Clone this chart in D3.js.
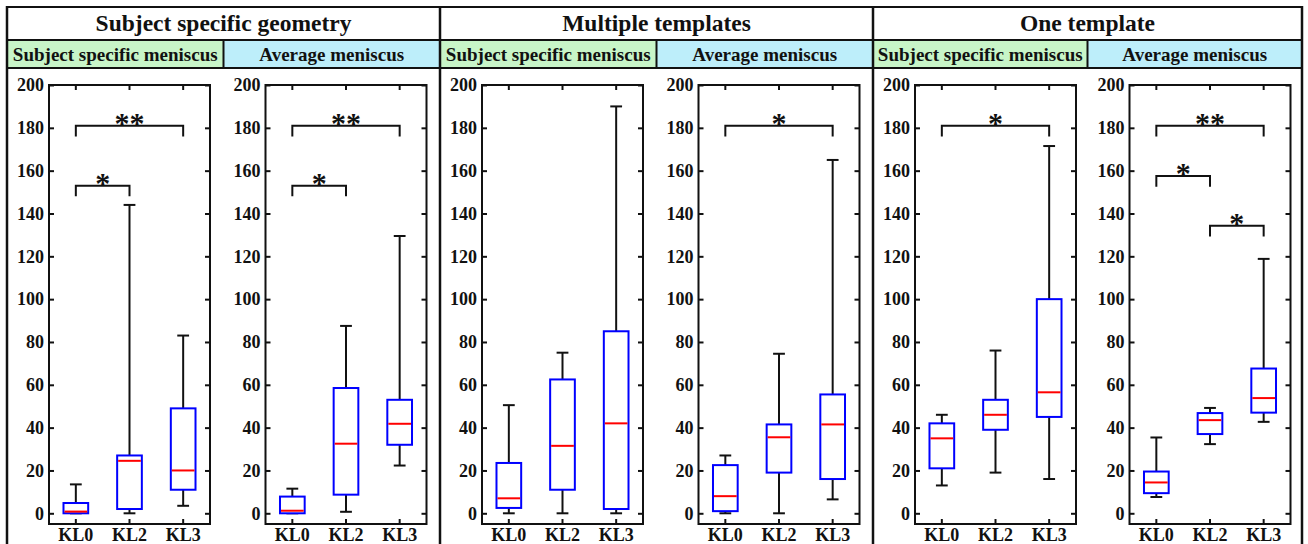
<!DOCTYPE html>
<html>
<head>
<meta charset="utf-8">
<script src="https://cdn.jsdelivr.net/npm/d3@7"></script>
<style>
  body { margin: 0; background: #fff; }
  svg text { font-family: "Liberation Serif", "Times New Roman", serif; font-weight: bold; fill: #111; }
</style>
</head>
<body>
<div id="chart"></div>
<script>
// titles
var groupTitles = ["Subject specific geometry", "Multiple templates", "One template"];
var subTitles = ["Subject specific meniscus", "Average meniscus"];
var subColors = ["#c8f5c8", "#bdeefa"];

var categories = ["KL0", "KL2", "KL3"];
var yTicks = [0, 20, 40, 60, 80, 100, 120, 140, 160, 180, 200];

// box stats per panel: [min, q1, median, q3, max] for KL0, KL2, KL3
var geomSubject = [[0, 0, 0.8, 4.8, 13.5], [0, 2, 24.5, 27, 144], [3.5, 11, 20, 49, 83]];
var geomAverage = [[0, 0, 1.2, 7.8, 11.5], [0.7, 8.7, 32.5, 58.5, 87.5], [22.3, 32, 41.8, 53, 129.5]];
var multiSubject = [[0, 2.5, 7, 23.5, 50.5], [0, 11, 31.5, 62.5, 75], [0, 2, 42, 85, 190]];
var multiAverage = [[0, 1, 8, 22.5, 27], [0, 19, 35.5, 41.5, 74.5], [6.5, 16, 41.5, 55.5, 165]];
var oneSubject = [[13, 21, 35, 42, 46], [19, 39, 46, 53, 76], [16, 45, 56.5, 100, 171.5]];
var oneAverage = [[7.6, 9.4, 14.4, 19.5, 35.4], [32.3, 37, 43.5, 46.8, 49.2], [42.7, 47, 53.8, 67.6, 118.8]];

// significance brackets: [fromIndex, toIndex, height, label]
var sigGeomSubject = [[0, 2, 181, "**"], [0, 1, 153, "*"]];
var sigGeomAverage = [[0, 2, 181, "**"], [0, 1, 153, "*"]];
var sigMultiSubject = [];
var sigMultiAverage = [[0, 2, 181, "*"]];
var sigOneSubject = [[0, 2, 181, "*"]];
var sigOneAverage = [[0, 2, 181, "**"], [0, 1, 157.5, "*"], [1, 2, 134.3, "*"]];

var panelStats = [geomSubject, geomAverage, multiSubject, multiAverage, oneSubject, oneAverage];
var panelSigs = [sigGeomSubject, sigGeomAverage, sigMultiSubject, sigMultiAverage, sigOneSubject, sigOneAverage];

var width = 1308, height = 544;
var svg = d3.select("#chart").append("svg")
  .attr("width", width)
  .attr("height", height);

// table layout
var groupX = [7, 440, 873];
var groupW = [433, 433, 429];
var rowTop = 7, rowMid = 40, rowSub = 68;

// the panels
var y = d3.scaleLinear().domain([-5, 200]).range([524, 85]);

panelStats.forEach(function(stats, p) {
  var g = Math.floor(p / 2), half = p % 2;
  var hw = groupW[g] / 2;
  var x0 = groupX[g] + half * hw;

  // subheader cell
  svg.append("rect")
    .attr("x", x0).attr("y", rowMid)
    .attr("width", hw).attr("height", rowSub - rowMid)
    .attr("fill", subColors[half]);
  svg.append("text")
    .attr("x", x0 + hw / 2).attr("y", 61)
    .attr("text-anchor", "middle")
    .style("font-size", "19px")
    .text(subTitles[half]);

  var x = d3.scaleBand().domain(categories).range([x0 + 42, x0 + 203]);
  var bw = x.bandwidth();
  var cx = function(i) { return x(categories[i]) + bw / 2; };
  var boxW = bw * 0.46, capW = bw * 0.22;

  var ax = svg.append("g");

  ax.append("g")
    .attr("transform", "translate(" + (x0 + 42) + ",0)")
    .call(d3.axisLeft(y).tickValues(yTicks).tickSizeInner(-5).tickSizeOuter(0).tickPadding(5));
  ax.append("g")
    .attr("transform", "translate(" + (x0 + 203) + ",0)")
    .call(d3.axisRight(y).tickValues(yTicks).tickSizeInner(-5).tickSizeOuter(0).tickFormat(""));
  ax.append("g")
    .attr("transform", "translate(0," + y(-5) + ")")
    .call(d3.axisBottom(x).tickSizeInner(-5).tickSizeOuter(0).tickPadding(4));
  ax.append("g")
    .attr("transform", "translate(0," + y(200) + ")")
    .call(d3.axisTop(x).tickSizeInner(-5).tickSizeOuter(0).tickFormat(""));

  ax.selectAll(".domain").remove();
  ax.selectAll(".tick line").attr("stroke", "#111").attr("stroke-width", 2);
  ax.selectAll(".tick text").style("font-size", "18px");

  ax.append("rect")
    .attr("x", x0 + 42).attr("y", y(200))
    .attr("width", 161).attr("height", y(-5) - y(200))
    .attr("fill", "none").attr("stroke", "#111").attr("stroke-width", 2);

  var boxes = svg.append("g").selectAll("g")
    .data(stats)
    .enter().append("g");

  // whiskers
  boxes.append("line")
    .attr("x1", function(d, i) { return cx(i); })
    .attr("x2", function(d, i) { return cx(i); })
    .attr("y1", function(d) { return y(d[3]); })
    .attr("y2", function(d) { return y(d[4]); })
    .attr("stroke", "#111").attr("stroke-width", 2);
  boxes.append("line")
    .attr("x1", function(d, i) { return cx(i); })
    .attr("x2", function(d, i) { return cx(i); })
    .attr("y1", function(d) { return y(d[1]); })
    .attr("y2", function(d) { return y(d[0]); })
    .attr("stroke", "#111").attr("stroke-width", 2);
  [0, 4].forEach(function(k) {
    boxes.append("line")
      .attr("x1", function(d, i) { return cx(i) - capW / 2; })
      .attr("x2", function(d, i) { return cx(i) + capW / 2; })
      .attr("y1", function(d) { return y(d[k]); })
      .attr("y2", function(d) { return y(d[k]); })
      .attr("stroke", "#111").attr("stroke-width", 2);
  });

  boxes.append("rect")
    .attr("x", function(d, i) { return cx(i) - boxW / 2; })
    .attr("y", function(d) { return y(d[3]); })
    .attr("width", boxW)
    .attr("height", function(d) { return Math.max(0.5, y(d[1]) - y(d[3])); })
    .attr("fill", "#fff").attr("stroke", "#0000ff").attr("stroke-width", 2);

  boxes.append("line")
    .attr("x1", function(d, i) { return cx(i) - boxW / 2 + 1; })
    .attr("x2", function(d, i) { return cx(i) + boxW / 2 - 1; })
    .attr("y1", function(d) { return y(d[2]); })
    .attr("y2", function(d) { return y(d[2]); })
    .attr("stroke", "#ff0000").attr("stroke-width", 2);

  // brackets
  var sig = svg.append("g").selectAll("g")
    .data(panelSigs[p])
    .enter().append("g");
  sig.append("path")
    .attr("d", function(d) {
      var xa = cx(d[0]), xb = cx(d[1]);
      return "M" + xa + "," + y(d[2] - 5) + "V" + y(d[2]) + "H" + xb + "V" + y(d[2] - 5);
    })
    .attr("fill", "none").attr("stroke", "#111").attr("stroke-width", 2);
  sig.append("text")
    .attr("x", function(d) { return (cx(d[0]) + cx(d[1])) / 2; })
    .attr("y", function(d) { return y(d[2]) + 7; })
    .attr("text-anchor", "middle")
    .style("font-size", "30px")
    .text(function(d) { return d[3]; });
});

// group titles and table lines
groupTitles.forEach(function(t, g) {
  svg.append("text")
    .attr("x", groupX[g] + groupW[g] / 2).attr("y", 31)
    .attr("text-anchor", "middle")
    .style("font-size", "23.5px")
    .text(t);
  svg.append("line")
    .attr("x1", groupX[g] + groupW[g] / 2).attr("x2", groupX[g] + groupW[g] / 2)
    .attr("y1", rowMid).attr("y2", rowSub)
    .attr("stroke", "#111").attr("stroke-width", 2);
});

var right = groupX[2] + groupW[2];
[rowTop, rowMid, rowSub].forEach(function(yy) {
  svg.append("line")
    .attr("x1", groupX[0]).attr("x2", right)
    .attr("y1", yy).attr("y2", yy)
    .attr("stroke", "#111").attr("stroke-width", 2);
});
groupX.concat([right]).forEach(function(xx) {
  svg.append("line")
    .attr("x1", xx).attr("x2", xx)
    .attr("y1", rowTop - 1).attr("y2", height)
    .attr("stroke", "#111").attr("stroke-width", 2.5);
});
</script>
</body>
</html>
